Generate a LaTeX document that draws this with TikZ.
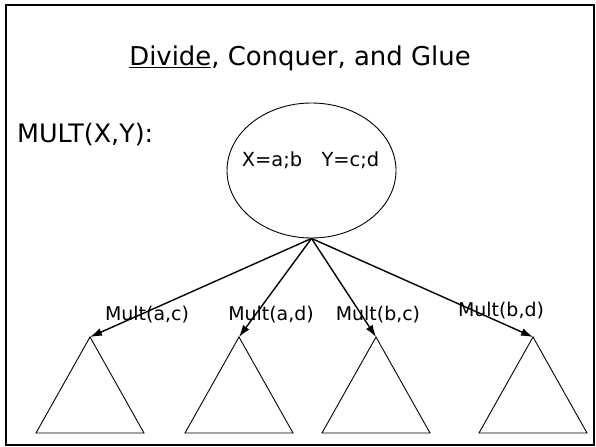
\documentclass[tikz,border=0pt]{standalone}
\usepackage{fontspec}
\setmainfont{DejaVu Sans}
\usetikzlibrary{arrows.meta,positioning,shapes.geometric}

\begin{document}
\begin{tikzpicture}[
            x=1bp,
            y=-1bp,
            every node/.style={
                    inner sep=0pt,
                    align=center
                },
            title/.style={
                    font=\fontsize{26}{30}\selectfont
                },
            call/.style={
                    font=\fontsize{25.5}{30}\selectfont,
                    anchor=west
                },
            problem/.style={
                    ellipse,
                    draw=black,
                    line width=0.9bp,
                    minimum width=169bp,
                    minimum height=135bp
                },
            sublabel/.style={
                    font=\fontsize{19}{22}\selectfont
                },
            split/.style={
                    draw=black,
                    line width=1.4bp,
                    -{Latex[length=12bp,width=8bp]}
                },
            subtree/.style={
                    draw=black,
                    line width=0.9bp,
                    line join=miter
                }
        ]
        \useasboundingbox (0,0) rectangle (596,447);
        \draw[line width=2bp] (6,5) rectangle (594,445);

        \node[title] (head) at (300,58) {\underline{Divide}, Conquer, and Glue};
        \node[call] (mult) at (17,135) {MULT(X,Y):};

        \node[problem] (root) at (311.5,170.5) {};
        \node[font=\fontsize{19.5}{22}\selectfont] (xy) at (310.5,160) {X=a;b\hspace{1em}Y=c;d};

        % apex of each recursive call
        \coordinate (ac) at (90,337);
        \coordinate (ad) at (239,337);
        \coordinate (bc) at (376,337);
        \coordinate (bd) at (533,337);

        \foreach \t in {ac,ad,bc,bd} {
            \draw[split] (root.south) -- (\t);
            \draw[subtree] (\t) -- ++(-54,96) -- ++(108,0) -- cycle;
        }

        \node[sublabel] (lac) at (147,315) {Mult(a,c)};
        \node[sublabel] (lad) at (271,315) {Mult(a,d)};
        \node[sublabel] (lbc) at (378,315) {Mult(b,c)};
        \node[sublabel] (lbd) at (501,311) {Mult(b,d)};

    \end{tikzpicture}
\end{document}
